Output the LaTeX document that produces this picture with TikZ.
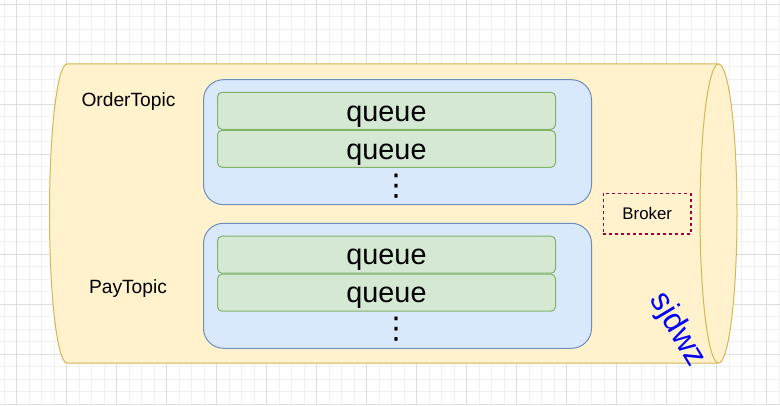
\documentclass[tikz,border=0pt]{standalone}
\usepackage{fontspec}
\setmainfont{Liberation Sans}
\newfontfamily\dejavu{DejaVu Sans}
\definecolor{cylfill}{HTML}{FFF2CC}
\definecolor{cyldraw}{HTML}{D6B656}
\definecolor{bluefill}{HTML}{DAE8FC}
\definecolor{bluedraw}{HTML}{6C8EBF}
\definecolor{greenfill}{HTML}{D5E8D4}
\definecolor{greendraw}{HTML}{82B366}
\definecolor{brokerdraw}{HTML}{A50040}
\definecolor{gridminor}{HTML}{F0F0F0}
\definecolor{gridmajor}{HTML}{DDDDDD}
\tikzset{
  topicbox/.style={draw=bluedraw, fill=bluefill, line width=1pt, rounded corners=20pt,
    minimum width=388pt, minimum height=125pt, inner sep=0pt},
  queuebox/.style={draw=greendraw, fill=greenfill, line width=1pt, rounded corners=4.5pt,
    minimum width=338pt, minimum height=37pt, inner sep=0pt,
    font=\fontsize{28.8}{30}\selectfont, text height=22.5pt, text depth=2pt},
  moredots/.style={inner sep=0pt, font=\dejavu\fontsize{30}{32}\selectfont},
  topiclabel/.style={inner sep=0pt, font=\fontsize{19.2}{22}\selectfont, anchor=base},
  brokerbox/.style={draw=brokerdraw, dash pattern=on 3pt off 3pt, line width=1.2pt,
    minimum width=87.7pt, minimum height=40.7pt, inner sep=0pt,
    font=\fontsize{16.8}{20}\selectfont},
  watermark/.style={text=blue, font=\fontsize{32}{34}\selectfont, rotate=-59, inner sep=0pt}
}
\begin{document}
\begin{tikzpicture}[x=1pt,y=1pt]
\useasboundingbox (0,0) rectangle (780,405);
\fill[white] (0,0) rectangle (780,405);
% grid
\foreach \k in {0,...,62} {\draw[gridminor, line width=0.8pt] ({4+12.5*\k},0) -- ({4+12.5*\k},405);}
\foreach \k in {0,...,32} {\draw[gridminor, line width=0.8pt] (0,{401-12.5*\k}) -- (780,{401-12.5*\k});}
\foreach \k in {0,...,15} {\draw[gridmajor, line width=0.8pt] ({16.5+50*\k},0) -- ({16.5+50*\k},405);}
\foreach \k in {0,...,8} {\draw[gridmajor, line width=0.8pt] (0,{401-50*\k}) -- (780,{401-50*\k});}
% broker cylinder
\coordinate (cyltop) at (718.5,341);
\coordinate (cylbot) at (67,42);
\draw[draw=cyldraw, fill=cylfill, line width=1pt]
  (67,341) -- (cyltop) arc[start angle=90, end angle=-90, x radius=18.5pt, y radius=149.5pt]
  -- (cylbot) arc[start angle=270, end angle=90, x radius=17.5pt, y radius=149.5pt] -- cycle;
\draw[draw=cyldraw, line width=1pt]
  (cyltop) arc[start angle=90, end angle=270, x radius=18.5pt, y radius=149.5pt];
% topics
\node[topicbox] (order) at (397.5,262.8) {};
\node[queuebox] (oq1) at (386.5,294.2) {queue};
\node[queuebox] (oq2) at (386.5,256.2) {queue};
\node[moredots] (odots) at (396.7,219.3) {⋮};
\node[topicbox] (pay) at (397.5,119.2) {};
\node[queuebox] (pq1) at (386.5,150.3) {queue};
\node[queuebox] (pq2) at (386.5,112.3) {queue};
\node[moredots] (pdots) at (396.7,76) {⋮};
\node[topiclabel] (orderlabel) at (128.5,298.3) {OrderTopic};
\node[topiclabel] (paylabel) at (128,112) {PayTopic};
\node[brokerbox] (broker) at (647.2,191.4) {Broker};
\node[watermark] (sjdwz) at (677.5,75) {sjdwz};
\end{tikzpicture}
\end{document}
